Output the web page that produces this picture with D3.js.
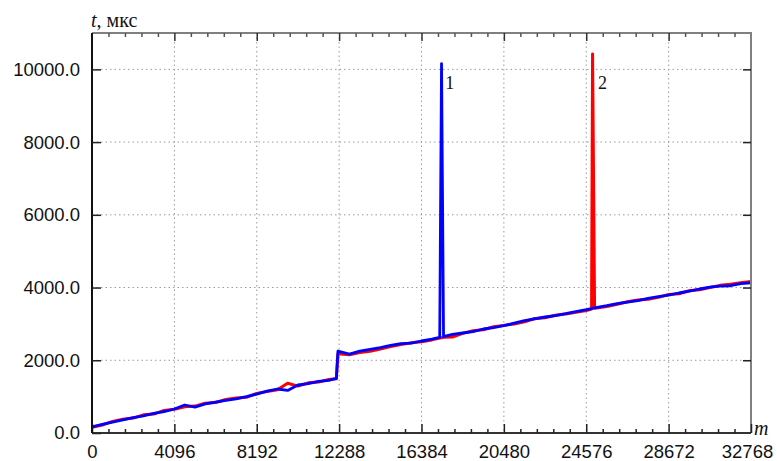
<!DOCTYPE html>
<html>
<head>
<meta charset="utf-8">
<script src="https://cdn.jsdelivr.net/npm/d3@7"></script>
<style>
  body { margin: 0; background: #fff; }
  svg { display: block; }
</style>
</head>
<body>
<div id="chart"></div>
<script>
// m values (shared by both curves)
var mValues = [0, 512, 1024, 1536, 2048, 2560, 3072, 3584, 4096, 4608,
  5120, 5632, 6144, 6656, 7168, 7680, 8192, 8704, 9216, 9728,
  10240, 10752, 11264, 11776, 12150, 12230, 12800, 13312, 13824, 14336,
  14848, 15360, 15872, 16384, 16896, 17290, 17380, 17480, 17920, 18432,
  18944, 19456, 19968, 20480, 20992, 21504, 22016, 22528, 23040, 23552,
  24064, 24576, 24840, 24890, 24990, 25600, 26112, 26624, 27136, 27648,
  28160, 28672, 29184, 29696, 30208, 30720, 31232, 31744, 32256, 32768];

// curve 1 (blue), t in microseconds
var blueValues = [170, 235, 300, 360, 425, 470, 540, 590, 660, 770,
  710, 800, 850, 900, 940, 1000, 1070, 1150, 1210, 1170,
  1320, 1360, 1420, 1450, 1500, 2250, 2170, 2250, 2300, 2350,
  2410, 2460, 2470, 2530, 2580, 2630, 10160, 2650, 2710, 2750,
  2790, 2860, 2900, 2950, 3020, 3090, 3140, 3190, 3230, 3280,
  3340, 3390, 3420, 3430, 3440, 3500, 3560, 3600, 3640, 3700,
  3750, 3790, 3850, 3900, 3960, 4010, 4040, 4050, 4110, 4130];

// curve 2 (red)
var redValues = [160, 220, 320, 380, 410, 500, 520, 620, 650, 720,
  740, 820, 840, 920, 960, 980, 1090, 1140, 1190, 1370,
  1290, 1380, 1400, 1470, 1490, 2180, 2150, 2210, 2250, 2310,
  2380, 2430, 2480, 2510, 2560, 2610, 2620, 2630, 2640, 2740,
  2810, 2840, 2920, 2960, 3000, 3060, 3150, 3170, 3240, 3270,
  3320, 3370, 3410, 10420, 3430, 3480, 3540, 3610, 3660, 3680,
  3730, 3810, 3830, 3910, 3940, 4000, 4060, 4090, 4130, 4170];

var xTicks = [0, 4096, 8192, 12288, 16384, 20480, 24576, 28672, 32768];
var yTicks = [0, 2000, 4000, 6000, 8000, 10000];

var curveLabels = [
  {text: "1", m: 17560, t: 9470},
  {text: "2", m: 25160, t: 9470}
];

var width = 777, height = 461;
var plotLeft = 92, plotRight = 751, plotTop = 33, plotBottom = 433;

var x = d3.scaleLinear().domain([0, 32768]).range([plotLeft, plotRight]);
var y = d3.scaleLinear().domain([0, 11000]).range([plotBottom, plotTop]);

var svg = d3.select("#chart")
  .append("svg")
  .attr("width", width)
  .attr("height", height);

// dotted grid
var grid = svg.append("g")
  .attr("stroke", "#9a9a9a")
  .attr("stroke-width", 1)
  .attr("stroke-dasharray", "1.5,3");

grid.selectAll(".gx")
  .data(xTicks.slice(1, -1))
  .enter().append("line")
  .attr("x1", function(d) { return x(d); })
  .attr("x2", function(d) { return x(d); })
  .attr("y1", plotTop)
  .attr("y2", plotBottom);

grid.selectAll(".gy")
  .data(yTicks.slice(1))
  .enter().append("line")
  .attr("x1", plotLeft)
  .attr("x2", plotRight)
  .attr("y1", function(d) { return y(d); })
  .attr("y2", function(d) { return y(d); });

// curves
var line = d3.line()
  .x(function(d) { return x(d[0]); })
  .y(function(d) { return y(d[1]); });

svg.append("path")
  .datum(d3.zip(mValues, redValues))
  .attr("fill", "none")
  .attr("stroke", "#ff0000")
  .attr("stroke-width", 3)
  .attr("stroke-linejoin", "round")
  .attr("d", line);

svg.append("path")
  .datum(d3.zip(mValues, blueValues))
  .attr("fill", "none")
  .attr("stroke", "#0000ff")
  .attr("stroke-width", 2.8)
  .attr("stroke-linejoin", "round")
  .attr("d", line);

// frame: top and right grey
var minorX = d3.range(0, 32768, 4096 / 5).filter(function(d) { return d % 4096 != 0; });

svg.append("line")
  .attr("x1", plotLeft).attr("x2", plotRight + 1)
  .attr("y1", plotTop).attr("y2", plotTop)
  .attr("stroke", "#808080").attr("stroke-width", 2);
svg.append("line")
  .attr("x1", plotRight).attr("x2", plotRight)
  .attr("y1", plotTop).attr("y2", plotBottom)
  .attr("stroke", "#808080").attr("stroke-width", 2);

var topAxis = d3.axisTop(x).tickValues(xTicks.slice(1, -1)).tickSize(-8).tickFormat("");
svg.append("g").attr("transform", "translate(0," + plotTop + ")").call(topAxis)
  .call(function(g) { g.select(".domain").remove(); g.selectAll("line").attr("stroke", "#333").attr("stroke-width", 1.5); });
var topMinor = d3.axisTop(x).tickValues(minorX).tickSize(-4).tickFormat("");
svg.append("g").attr("transform", "translate(0," + plotTop + ")").call(topMinor)
  .call(function(g) { g.select(".domain").remove(); g.selectAll("line").attr("stroke", "#555").attr("stroke-width", 1.5); });

var rightAxis = d3.axisRight(y).tickValues(yTicks.slice(1)).tickSize(-8).tickFormat("");
svg.append("g").attr("transform", "translate(" + plotRight + ",0)").call(rightAxis)
  .call(function(g) { g.select(".domain").remove(); g.selectAll("line").attr("stroke", "#222").attr("stroke-width", 1.5); });

// bottom axis
var bottomAxis = d3.axisBottom(x).tickValues(xTicks).tickSize(-9).tickPadding(12).tickFormat(d3.format("d"));
svg.append("g").attr("transform", "translate(0," + plotBottom + ")").call(bottomAxis)
  .call(function(g) {
    g.select(".domain").attr("stroke", "#333").attr("stroke-width", 2).attr("d", "M" + plotLeft + ",0H" + plotRight);
    g.selectAll("line").attr("stroke", "#222").attr("stroke-width", 1.5);
    g.selectAll("text")
      .attr("font-family", "Liberation Sans, Arial, sans-serif")
      .attr("font-size", "18.5px")
      .attr("fill", "#111");
    g.selectAll(".tick:last-of-type text").attr("dx", "-4");
  });
var bottomMinor = d3.axisBottom(x).tickValues(minorX).tickSize(-4).tickFormat("");
svg.append("g").attr("transform", "translate(0," + plotBottom + ")").call(bottomMinor)
  .call(function(g) { g.select(".domain").remove(); g.selectAll("line").attr("stroke", "#222").attr("stroke-width", 1.5); });

// left axis
var leftAxis = d3.axisLeft(y).tickValues(yTicks).tickSize(-9).tickPadding(12).tickFormat(d3.format(".1f"));
svg.append("g").attr("transform", "translate(" + plotLeft + ",0)").call(leftAxis)
  .call(function(g) {
    g.select(".domain").attr("stroke", "#111").attr("stroke-width", 2).attr("d", "M0," + plotTop + "V" + plotBottom);
    g.selectAll("line").attr("stroke", "#222").attr("stroke-width", 1.5);
    g.selectAll("text")
      .attr("font-family", "Liberation Sans, Arial, sans-serif")
      .attr("font-size", "18.5px")
      .attr("fill", "#111");
  });

// axis titles
var yTitle = svg.append("text")
  .attr("x", plotLeft - 1)
  .attr("y", 27)
  .attr("font-family", "Liberation Serif, Times New Roman, serif")
  .attr("font-size", "20px")
  .attr("fill", "#111");
yTitle.append("tspan").attr("font-style", "italic").text("t");
yTitle.append("tspan").text(", мкс");

svg.append("text")
  .attr("x", 754)
  .attr("y", 435)
  .attr("font-family", "Liberation Serif, Times New Roman, serif")
  .attr("font-style", "italic")
  .attr("font-size", "20px")
  .attr("fill", "#111")
  .text("m");

// curve numbers
svg.selectAll(".clabel")
  .data(curveLabels)
  .enter().append("text")
  .attr("x", function(d) { return x(d.m); })
  .attr("y", function(d) { return y(d.t); })
  .attr("font-family", "Liberation Serif, Times New Roman, serif")
  .attr("font-size", "18px")
  .attr("fill", "#111")
  .text(function(d) { return d.text; });
</script>
</body>
</html>
